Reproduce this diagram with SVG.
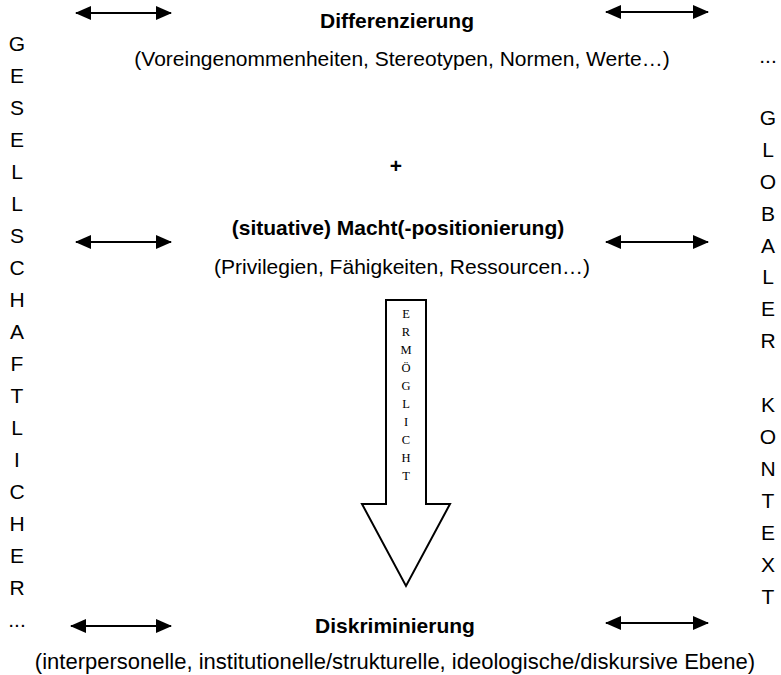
<svg xmlns="http://www.w3.org/2000/svg" width="781" height="675" viewBox="0 0 781 675">
<defs>
<marker id="ah" viewBox="0 0 16 14" refX="15" refY="7" markerWidth="16" markerHeight="14" orient="auto-start-reverse" markerUnits="userSpaceOnUse">
<path d="M0,0 L16,7 L0,14 z" fill="#000"/>
</marker>
<style>
.t{font-family:"Liberation Sans",Arial,sans-serif;font-size:21px;fill:#000;text-anchor:middle}
.b{font-weight:bold}
.col{font-family:"Liberation Sans",Arial,sans-serif;font-size:21px;fill:#000;text-anchor:middle}
.ser{font-family:"Liberation Serif","Times New Roman",serif;font-size:12.5px;fill:#000;text-anchor:middle}
.arr{stroke:#000;stroke-width:2;fill:none;marker-start:url(#ah);marker-end:url(#ah)}
</style>
</defs>
<rect width="781" height="675" fill="#fff"/>
<g id="connectors">
<line class="arr" x1="76" y1="13" x2="171" y2="13"/>
<line class="arr" x1="606" y1="12" x2="708" y2="12"/>
<line class="arr" x1="76" y1="242" x2="171" y2="242"/>
<line class="arr" x1="606" y1="242" x2="708" y2="242"/>
<line class="arr" x1="71" y1="626" x2="171" y2="626"/>
<line class="arr" x1="606" y1="623" x2="708" y2="623"/>
</g>
<g id="differenzierung">
<text class="t b" x="397" y="28">Differenzierung</text>
<text class="t" x="402" y="66">(Voreingenommenheiten, Stereotypen, Normen, Werte…)</text>
</g>
<g id="plus"><text class="t b" x="396" y="173">+</text></g>
<g id="macht">
<text class="t b" x="398" y="235">(situative) Macht(-positionierung)</text>
<text class="t" x="402" y="274">(Privilegien, Fähigkeiten, Ressourcen…)</text>
</g>
<g id="ermoeglicht">
<path d="M386,300 H426 V504 H450 L406,586 L362,504 H386 Z" fill="#fff" stroke="#000" stroke-width="2"/>
<text class="ser"><tspan x="406" y="318">E</tspan><tspan x="406" y="336">R</tspan><tspan x="406" y="354">M</tspan><tspan x="406" y="372">Ö</tspan><tspan x="406" y="390">G</tspan><tspan x="406" y="408">L</tspan><tspan x="406" y="426">I</tspan><tspan x="406" y="444">C</tspan><tspan x="406" y="462">H</tspan><tspan x="406" y="480">T</tspan></text>
</g>
<g id="diskriminierung">
<text class="t b" x="395" y="633">Diskriminierung</text>
<text class="t" x="395" y="669" style="font-size:22px">(interpersonelle, institutionelle/strukturelle, ideologische/diskursive Ebene)</text>
</g>
<g id="gesellschaftlich">
<text class="col"><tspan x="17" y="51">G</tspan><tspan x="17" y="83">E</tspan><tspan x="17" y="115">S</tspan><tspan x="17" y="147">E</tspan><tspan x="17" y="179">L</tspan><tspan x="17" y="211">L</tspan><tspan x="17" y="243">S</tspan><tspan x="17" y="275">C</tspan><tspan x="17" y="307">H</tspan><tspan x="17" y="339">A</tspan><tspan x="17" y="371">F</tspan><tspan x="17" y="403">T</tspan><tspan x="17" y="435">L</tspan><tspan x="17" y="467">I</tspan><tspan x="17" y="499">C</tspan><tspan x="17" y="531">H</tspan><tspan x="17" y="563">E</tspan><tspan x="17" y="595">R</tspan><tspan x="17" y="627">...</tspan></text>
</g>
<g id="global">
<text class="col"><tspan x="768" y="63">...</tspan><tspan x="768" y="125">G</tspan><tspan x="768" y="157">L</tspan><tspan x="768" y="189">O</tspan><tspan x="768" y="221">B</tspan><tspan x="768" y="253">A</tspan><tspan x="768" y="284">L</tspan><tspan x="768" y="316">E</tspan><tspan x="768" y="348">R</tspan><tspan x="768" y="412">K</tspan><tspan x="768" y="444">O</tspan><tspan x="768" y="476">N</tspan><tspan x="768" y="508">T</tspan><tspan x="768" y="540">E</tspan><tspan x="768" y="572">X</tspan><tspan x="768" y="604">T</tspan></text>
</g>
</svg>
